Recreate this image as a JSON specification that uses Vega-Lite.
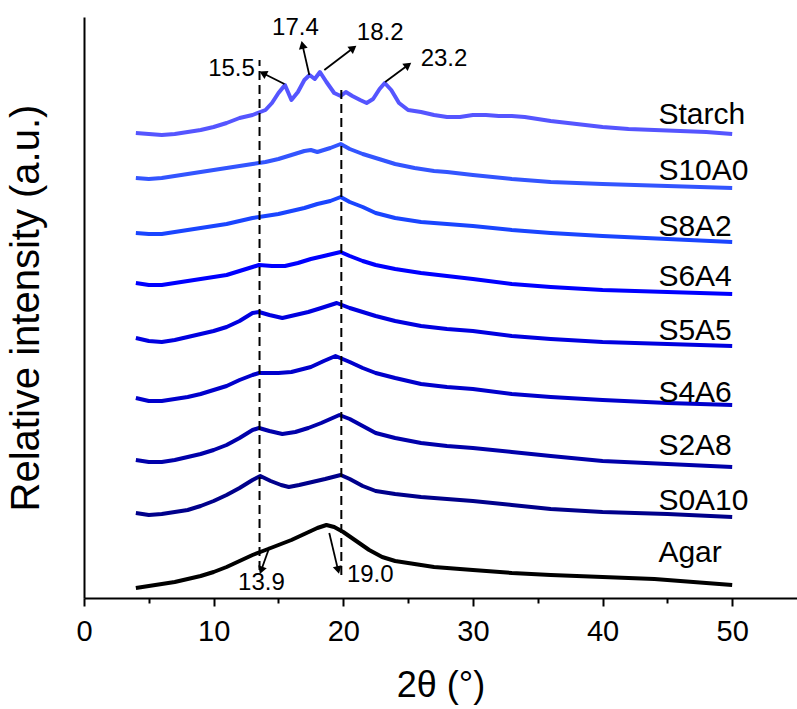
{
  "$schema": "https://vega.github.io/schema/vega-lite/v6.json",
  "width": 713,
  "height": 581,
  "autosize": {"type": "none"},
  "padding": {"left": 84, "top": 17, "right": 0, "bottom": 111},
  "config": {
    "font": "Liberation Sans",
    "view": {"stroke": null},
    "axis": {"grid": false, "domainColor": "black", "domainWidth": 2, "tickColor": "black", "labelColor": "black", "titleColor": "black", "titleFontWeight": "normal"}
  },
  "datasets": {
    "curves": [
      {"s":"Starch","x":4,"y":465},{"s":"Starch","x":5,"y":464},{"s":"Starch","x":6,"y":463},{"s":"Starch","x":7,"y":464},{"s":"Starch","x":8,"y":466},{"s":"Starch","x":9,"y":468},{"s":"Starch","x":10,"y":471},{"s":"Starch","x":11,"y":475},{"s":"Starch","x":12,"y":480},{"s":"Starch","x":13,"y":483},{"s":"Starch","x":14,"y":488},{"s":"Starch","x":14.5,"y":495},{"s":"Starch","x":15,"y":505},{"s":"Starch","x":15.5,"y":513},{"s":"Starch","x":16,"y":498},{"s":"Starch","x":16.5,"y":506},{"s":"Starch","x":17,"y":518},{"s":"Starch","x":17.4,"y":523},{"s":"Starch","x":17.8,"y":519},{"s":"Starch","x":18.2,"y":526},{"s":"Starch","x":18.7,"y":516},{"s":"Starch","x":19.3,"y":505},{"s":"Starch","x":19.8,"y":502},{"s":"Starch","x":20.2,"y":506},{"s":"Starch","x":20.7,"y":502},{"s":"Starch","x":21.3,"y":498},{"s":"Starch","x":21.8,"y":495},{"s":"Starch","x":22.3,"y":499},{"s":"Starch","x":22.8,"y":509},{"s":"Starch","x":23.2,"y":515},{"s":"Starch","x":23.7,"y":508},{"s":"Starch","x":24.3,"y":495},{"s":"Starch","x":25,"y":488},{"s":"Starch","x":26,"y":486},{"s":"Starch","x":27,"y":483},{"s":"Starch","x":28,"y":481},{"s":"Starch","x":29,"y":481},{"s":"Starch","x":30,"y":483},{"s":"Starch","x":31,"y":483},{"s":"Starch","x":32,"y":482},{"s":"Starch","x":33,"y":482},{"s":"Starch","x":34,"y":481},{"s":"Starch","x":35,"y":479},{"s":"Starch","x":36,"y":477},{"s":"Starch","x":38,"y":474},{"s":"Starch","x":40,"y":471},{"s":"Starch","x":42,"y":469},{"s":"Starch","x":44,"y":468},{"s":"Starch","x":46,"y":467},{"s":"Starch","x":48,"y":466},{"s":"Starch","x":50,"y":464},
      {"s":"S10A0","x":4,"y":420},{"s":"S10A0","x":5,"y":419},{"s":"S10A0","x":6,"y":420},{"s":"S10A0","x":7,"y":422},{"s":"S10A0","x":8,"y":424},{"s":"S10A0","x":9,"y":426},{"s":"S10A0","x":10,"y":428},{"s":"S10A0","x":11,"y":430},{"s":"S10A0","x":12,"y":432},{"s":"S10A0","x":13,"y":434},{"s":"S10A0","x":14,"y":436},{"s":"S10A0","x":15,"y":439},{"s":"S10A0","x":16,"y":443},{"s":"S10A0","x":17,"y":447},{"s":"S10A0","x":17.5,"y":448},{"s":"S10A0","x":18,"y":446},{"s":"S10A0","x":18.5,"y":448},{"s":"S10A0","x":19,"y":450},{"s":"S10A0","x":19.8,"y":454},{"s":"S10A0","x":20.5,"y":449},{"s":"S10A0","x":21.5,"y":444},{"s":"S10A0","x":22.5,"y":440},{"s":"S10A0","x":24,"y":434},{"s":"S10A0","x":25.5,"y":430},{"s":"S10A0","x":27,"y":427},{"s":"S10A0","x":28,"y":426},{"s":"S10A0","x":30,"y":423},{"s":"S10A0","x":33,"y":419},{"s":"S10A0","x":36,"y":416},{"s":"S10A0","x":40,"y":414},{"s":"S10A0","x":45,"y":412},{"s":"S10A0","x":50,"y":410},
      {"s":"S8A2","x":4,"y":365},{"s":"S8A2","x":5,"y":364},{"s":"S8A2","x":6,"y":364},{"s":"S8A2","x":7,"y":366},{"s":"S8A2","x":8,"y":368},{"s":"S8A2","x":9,"y":370},{"s":"S8A2","x":10,"y":372},{"s":"S8A2","x":11,"y":374},{"s":"S8A2","x":12,"y":377},{"s":"S8A2","x":13,"y":380},{"s":"S8A2","x":14,"y":382},{"s":"S8A2","x":15,"y":384},{"s":"S8A2","x":16,"y":387},{"s":"S8A2","x":17,"y":390},{"s":"S8A2","x":18,"y":394},{"s":"S8A2","x":19,"y":397},{"s":"S8A2","x":19.8,"y":401},{"s":"S8A2","x":20.5,"y":396},{"s":"S8A2","x":21.5,"y":391},{"s":"S8A2","x":22.5,"y":385},{"s":"S8A2","x":24,"y":380},{"s":"S8A2","x":26,"y":376},{"s":"S8A2","x":28,"y":374},{"s":"S8A2","x":30,"y":372},{"s":"S8A2","x":33,"y":368},{"s":"S8A2","x":36,"y":365},{"s":"S8A2","x":40,"y":362},{"s":"S8A2","x":45,"y":359},{"s":"S8A2","x":50,"y":356},
      {"s":"S6A4","x":4,"y":315},{"s":"S6A4","x":5,"y":313},{"s":"S6A4","x":6,"y":313},{"s":"S6A4","x":7,"y":315},{"s":"S6A4","x":8,"y":317},{"s":"S6A4","x":9,"y":319},{"s":"S6A4","x":10,"y":321},{"s":"S6A4","x":11,"y":323},{"s":"S6A4","x":12,"y":327},{"s":"S6A4","x":13,"y":331},{"s":"S6A4","x":13.5,"y":333},{"s":"S6A4","x":14.5,"y":332},{"s":"S6A4","x":15.5,"y":332},{"s":"S6A4","x":16.5,"y":335},{"s":"S6A4","x":17.5,"y":339},{"s":"S6A4","x":18.5,"y":342},{"s":"S6A4","x":19.8,"y":346},{"s":"S6A4","x":20.5,"y":342},{"s":"S6A4","x":21.5,"y":337},{"s":"S6A4","x":22.5,"y":333},{"s":"S6A4","x":24,"y":329},{"s":"S6A4","x":26,"y":325},{"s":"S6A4","x":28,"y":322},{"s":"S6A4","x":30,"y":319},{"s":"S6A4","x":33,"y":314},{"s":"S6A4","x":36,"y":311},{"s":"S6A4","x":40,"y":308},{"s":"S6A4","x":45,"y":306},{"s":"S6A4","x":50,"y":304},
      {"s":"S5A5","x":4,"y":260},{"s":"S5A5","x":5,"y":257},{"s":"S5A5","x":6,"y":256},{"s":"S5A5","x":7,"y":258},{"s":"S5A5","x":8,"y":261},{"s":"S5A5","x":9,"y":264},{"s":"S5A5","x":10,"y":267},{"s":"S5A5","x":11,"y":271},{"s":"S5A5","x":12,"y":277},{"s":"S5A5","x":13,"y":285},{"s":"S5A5","x":13.5,"y":286},{"s":"S5A5","x":14.3,"y":283},{"s":"S5A5","x":15.3,"y":280},{"s":"S5A5","x":16.3,"y":283},{"s":"S5A5","x":17.3,"y":286},{"s":"S5A5","x":18.3,"y":290},{"s":"S5A5","x":19.5,"y":295},{"s":"S5A5","x":20.5,"y":290},{"s":"S5A5","x":21.5,"y":286},{"s":"S5A5","x":22.5,"y":282},{"s":"S5A5","x":24,"y":277},{"s":"S5A5","x":26,"y":272},{"s":"S5A5","x":28,"y":269},{"s":"S5A5","x":30,"y":267},{"s":"S5A5","x":33,"y":262},{"s":"S5A5","x":36,"y":259},{"s":"S5A5","x":40,"y":256},{"s":"S5A5","x":45,"y":254},{"s":"S5A5","x":50,"y":252},
      {"s":"S4A6","x":4,"y":200},{"s":"S4A6","x":5,"y":197},{"s":"S4A6","x":6,"y":197},{"s":"S4A6","x":7,"y":199},{"s":"S4A6","x":8,"y":201},{"s":"S4A6","x":9,"y":204},{"s":"S4A6","x":10,"y":208},{"s":"S4A6","x":11,"y":212},{"s":"S4A6","x":12,"y":218},{"s":"S4A6","x":13,"y":223},{"s":"S4A6","x":13.5,"y":225},{"s":"S4A6","x":15,"y":225},{"s":"S4A6","x":16,"y":226},{"s":"S4A6","x":17.5,"y":231},{"s":"S4A6","x":18.5,"y":237},{"s":"S4A6","x":19.4,"y":242},{"s":"S4A6","x":20.5,"y":236},{"s":"S4A6","x":21.5,"y":230},{"s":"S4A6","x":22.5,"y":225},{"s":"S4A6","x":24,"y":220},{"s":"S4A6","x":26,"y":214},{"s":"S4A6","x":28,"y":211},{"s":"S4A6","x":30,"y":209},{"s":"S4A6","x":33,"y":204},{"s":"S4A6","x":36,"y":201},{"s":"S4A6","x":40,"y":198},{"s":"S4A6","x":45,"y":195},{"s":"S4A6","x":50,"y":193},
      {"s":"S2A8","x":4,"y":138},{"s":"S2A8","x":5,"y":136},{"s":"S2A8","x":6,"y":136},{"s":"S2A8","x":7,"y":138},{"s":"S2A8","x":8,"y":141},{"s":"S2A8","x":9,"y":144},{"s":"S2A8","x":10,"y":148},{"s":"S2A8","x":11,"y":153},{"s":"S2A8","x":12,"y":160},{"s":"S2A8","x":13,"y":168},{"s":"S2A8","x":13.5,"y":170},{"s":"S2A8","x":14.3,"y":167},{"s":"S2A8","x":15.3,"y":164},{"s":"S2A8","x":16.3,"y":166},{"s":"S2A8","x":17.3,"y":170},{"s":"S2A8","x":18.3,"y":175},{"s":"S2A8","x":19.7,"y":183},{"s":"S2A8","x":20.5,"y":179},{"s":"S2A8","x":21.5,"y":172},{"s":"S2A8","x":22.5,"y":165},{"s":"S2A8","x":24,"y":160},{"s":"S2A8","x":26,"y":155},{"s":"S2A8","x":28,"y":152},{"s":"S2A8","x":30,"y":150},{"s":"S2A8","x":33,"y":146},{"s":"S2A8","x":36,"y":142},{"s":"S2A8","x":40,"y":137},{"s":"S2A8","x":45,"y":134},{"s":"S2A8","x":50,"y":131},
      {"s":"S0A10","x":4,"y":85},{"s":"S0A10","x":5,"y":83},{"s":"S0A10","x":6,"y":84},{"s":"S0A10","x":7,"y":86},{"s":"S0A10","x":8,"y":88},{"s":"S0A10","x":9,"y":92},{"s":"S0A10","x":10,"y":97},{"s":"S0A10","x":11,"y":103},{"s":"S0A10","x":12,"y":110},{"s":"S0A10","x":13,"y":118},{"s":"S0A10","x":13.6,"y":122},{"s":"S0A10","x":14.4,"y":117},{"s":"S0A10","x":15.2,"y":113},{"s":"S0A10","x":15.8,"y":111},{"s":"S0A10","x":16.6,"y":113},{"s":"S0A10","x":17.6,"y":116},{"s":"S0A10","x":18.6,"y":119},{"s":"S0A10","x":19.8,"y":123},{"s":"S0A10","x":20.5,"y":119},{"s":"S0A10","x":21.5,"y":112},{"s":"S0A10","x":22.5,"y":107},{"s":"S0A10","x":24,"y":104},{"s":"S0A10","x":26,"y":101},{"s":"S0A10","x":28,"y":99},{"s":"S0A10","x":30,"y":97},{"s":"S0A10","x":33,"y":93},{"s":"S0A10","x":36,"y":89},{"s":"S0A10","x":40,"y":86},{"s":"S0A10","x":45,"y":84},{"s":"S0A10","x":50,"y":81},
      {"s":"Agar","x":4,"y":10},{"s":"Agar","x":5,"y":12},{"s":"Agar","x":6,"y":14},{"s":"Agar","x":7,"y":16},{"s":"Agar","x":8,"y":19},{"s":"Agar","x":9,"y":22},{"s":"Agar","x":10,"y":26},{"s":"Agar","x":11,"y":31},{"s":"Agar","x":12,"y":37},{"s":"Agar","x":13,"y":43},{"s":"Agar","x":14,"y":48},{"s":"Agar","x":15,"y":53},{"s":"Agar","x":16,"y":58},{"s":"Agar","x":17,"y":64},{"s":"Agar","x":18,"y":70},{"s":"Agar","x":18.7,"y":73},{"s":"Agar","x":19.3,"y":71},{"s":"Agar","x":20,"y":66},{"s":"Agar","x":21,"y":57},{"s":"Agar","x":22,"y":48},{"s":"Agar","x":23,"y":41},{"s":"Agar","x":24,"y":37},{"s":"Agar","x":25,"y":35},{"s":"Agar","x":27,"y":31},{"s":"Agar","x":30,"y":28},{"s":"Agar","x":33,"y":25},{"s":"Agar","x":36,"y":23},{"s":"Agar","x":40,"y":21},{"s":"Agar","x":44,"y":19},{"s":"Agar","x":47,"y":16},{"s":"Agar","x":50,"y":13}
    ],
    "dashes": [
      {"x": 13.54, "y": 28, "y2": 538},
      {"x": 19.85, "y": 23, "y2": 512}
    ],
    "arrows": [
      {"x": 15.46, "y": 514, "x2": 13.81, "y2": 524.8, "a": 296.6},
      {"x": 17.38, "y": 523, "x2": 16.85, "y2": 553.1, "a": 347.1},
      {"x": 18.54, "y": 528, "x2": 20.77, "y2": 550, "a": 52.9},
      {"x": 23.23, "y": 516, "x2": 25.0, "y2": 533, "a": 53.5},
      {"x": 14.31, "y": 51, "x2": 13.67, "y2": 27.7, "a": 199.7},
      {"x": 18.92, "y": 65, "x2": 19.6, "y2": 27.9, "a": 166.6}
    ],
    "peaks": [
      {"t": "15.5", "x": 11.38, "y": 529},
      {"t": "17.4", "x": 16.31, "y": 570},
      {"t": "18.2", "x": 22.85, "y": 565},
      {"t": "23.2", "x": 27.77, "y": 539},
      {"t": "13.9", "x": 13.69, "y": 15},
      {"t": "19.0", "x": 22.08, "y": 23}
    ],
    "names": [
      {"t": "Starch", "x": 44.31, "y": 483},
      {"t": "S10A0", "x": 44.31, "y": 427},
      {"t": "S8A2", "x": 44.31, "y": 371},
      {"t": "S6A4", "x": 44.31, "y": 321},
      {"t": "S5A5", "x": 44.31, "y": 267},
      {"t": "S4A6", "x": 44.31, "y": 205},
      {"t": "S2A8", "x": 44.31, "y": 152},
      {"t": "S0A10", "x": 44.31, "y": 97},
      {"t": "Agar", "x": 44.31, "y": 45}
    ]
  },
  "layer": [
    {
      "data": {"name": "curves"},
      "mark": {"type": "line", "strokeWidth": 4, "strokeJoin": "round"},
      "encoding": {
        "x": {
          "field": "x", "type": "quantitative",
          "scale": {"domain": [0, 55], "nice": false, "zero": false},
          "axis": {
            "title": "2θ (°)",
            "values": [0, 5, 10, 15, 20, 25, 30, 35, 40, 45, 50],
            "labelExpr": "datum.value % 10 === 0 ? datum.label : ''",
            "labelFlush": false,
            "labelOverlap": false,
            "tickSize": {"condition": {"test": "datum.value % 10 !== 0", "value": 5}, "value": 8},
            "tickWidth": 2,
            "labelFontSize": 29,
            "labelPadding": 11,
            "titleFontSize": 36,
            "titlePadding": 22
          }
        },
        "y": {
          "field": "y", "type": "quantitative",
          "scale": {"domain": [0, 581], "nice": false, "zero": false},
          "axis": {
            "title": "Relative intensity (a.u.)",
            "ticks": false,
            "labels": false,
            "titleFontSize": 40,
            "titlePadding": 38
          }
        },
        "color": {
          "field": "s", "type": "nominal", "legend": null,
          "scale": {
            "domain": ["Starch", "S10A0", "S8A2", "S6A4", "S5A5", "S4A6", "S2A8", "S0A10", "Agar"],
            "range": ["#5555FF", "#3355FF", "#1A45FF", "#0000FF", "#0000E0", "#0000CC", "#0000AA", "#00008B", "#000000"]
          }
        },
        "order": {"field": "x", "type": "quantitative"}
      }
    },
    {
      "data": {"name": "dashes"},
      "mark": {"type": "rule", "color": "black", "strokeWidth": 2, "strokeDash": [9, 5]},
      "encoding": {
        "x": {"field": "x", "type": "quantitative"},
        "y": {"field": "y", "type": "quantitative"},
        "y2": {"field": "y2"}
      }
    },
    {
      "data": {"name": "arrows"},
      "mark": {"type": "rule", "color": "black", "strokeWidth": 1.8},
      "encoding": {
        "x": {"field": "x", "type": "quantitative"},
        "y": {"field": "y", "type": "quantitative"},
        "x2": {"field": "x2"},
        "y2": {"field": "y2"}
      }
    },
    {
      "data": {"name": "arrows"},
      "mark": {"type": "point", "shape": "triangle-up", "filled": true, "color": "black", "opacity": 1, "size": 80},
      "encoding": {
        "x": {"field": "x2", "type": "quantitative"},
        "y": {"field": "y2", "type": "quantitative"},
        "angle": {"field": "a", "type": "quantitative", "scale": null}
      }
    },
    {
      "data": {"name": "peaks"},
      "mark": {"type": "text", "fontSize": 24, "color": "black", "align": "center", "baseline": "middle"},
      "encoding": {
        "x": {"field": "x", "type": "quantitative"},
        "y": {"field": "y", "type": "quantitative"},
        "text": {"field": "t"}
      }
    },
    {
      "data": {"name": "names"},
      "mark": {"type": "text", "fontSize": 30, "color": "black", "align": "left", "baseline": "middle"},
      "encoding": {
        "x": {"field": "x", "type": "quantitative"},
        "y": {"field": "y", "type": "quantitative"},
        "text": {"field": "t"}
      }
    }
  ]
}
